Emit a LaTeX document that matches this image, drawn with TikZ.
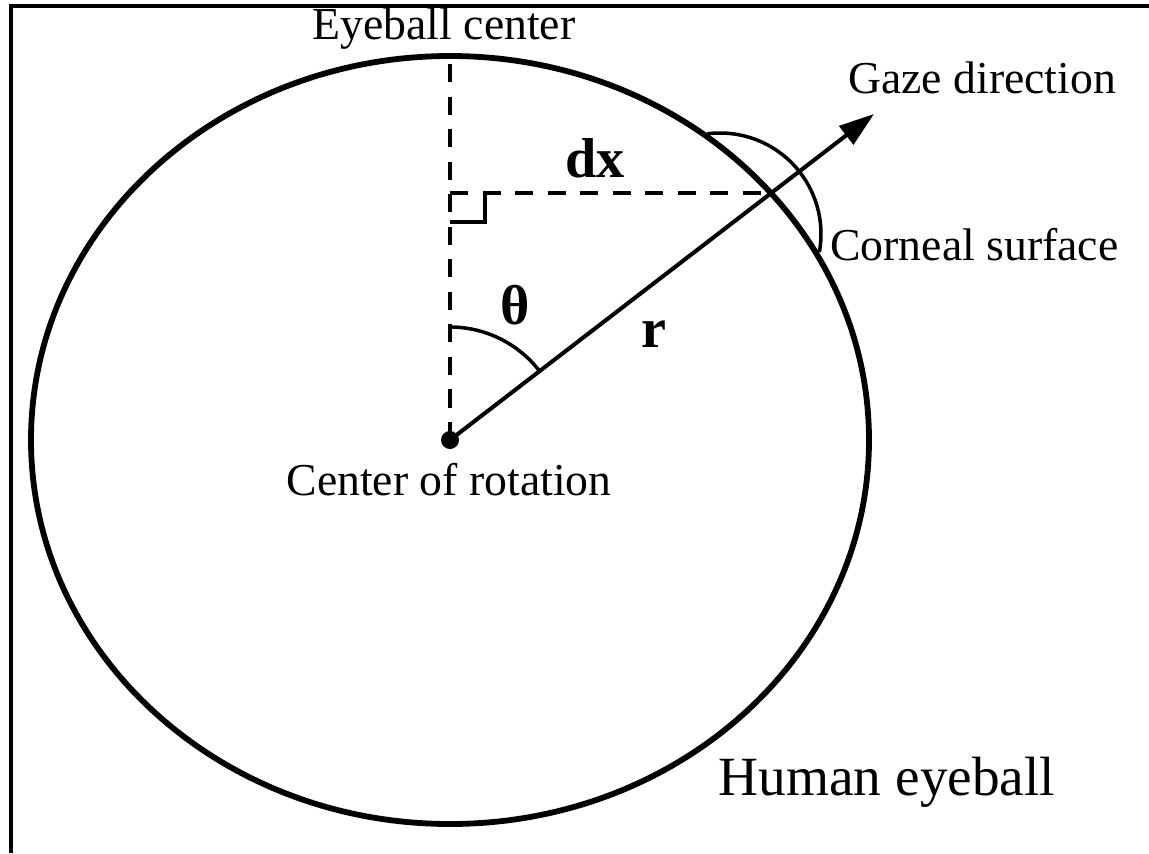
\documentclass[tikz,border=0pt]{standalone}
\usepackage{fontspec}
\setmainfont{Liberation Serif}
\usetikzlibrary{arrows.meta}

\tikzset{
  lbl/.style={font=\fontsize{26}{30}\selectfont, inner sep=0pt},
  biglbl/.style={font=\fontsize{31.5}{36}\selectfont, inner sep=0pt},
  sym/.style={font=\fontsize{32}{36}\selectfont\bfseries, inner sep=0pt},
  guide/.style={line width=2.3pt, dash pattern=on 10.5pt off 8pt},
  thin line/.style={line width=2pt},
}

\begin{document}
\begin{tikzpicture}[x=0.02cm, y=-0.02cm]
\useasboundingbox (0,0) rectangle (1149,853);

% Frame (left and top edges only)
\draw[line width=1.8pt] (11,853) -- (11,6) -- (1149,6);

% Key points (pixel coords, y downwards)
\coordinate (O) at (450,440);
\coordinate (T) at (450,56);
\coordinate (F) at (450,193);
\coordinate (P) at (770,193);
\coordinate (G) at (874,114);

% --- Eyeball ---
\draw[line width=3.3pt] (O) ellipse [x radius=419, y radius=384];

% Dashed guides
\draw[guide] (O) -- (T);
\draw[guide] (F) -- (P);

% Right angle mark
\draw[thin line] (F) ++(0,29) -- ++(35,0) -- ++(0,-29);

% Gaze direction
\draw[line width=2.3pt, -{Triangle[length=20pt,width=13pt]}] (O) -- (G);

% Angle arc
\draw[thin line] (O) ++(0,-113) arc[start angle=-90, end angle=-37.8, radius=113];

% Corneal surface
\draw[thin line] (720,234) ++(-97.3:101) arc[start angle=-97.3, end angle=10.4, radius=101];

% Center of rotation dot
\fill (O) circle[radius=9];

% --- Labels ---
\node[lbl, anchor=base] (ec) at (444,39) {Eyeball center};
\node[lbl, anchor=base west] (gd) at (848,93) {Gaze direction};
\node[lbl, anchor=base west] (cs) at (830,260) {Corneal surface};
\node[lbl, anchor=base] (cr) at (449,495) {Center of rotation};
\node[biglbl, anchor=base] (he) at (887,795) {Human eyeball};
\node[sym, anchor=base] (dx) at (595,177) {dx};
\node[sym] (th) at (515,305) {θ};
\node[sym, anchor=base] (r) at (654,347) {r};

\end{tikzpicture}
\end{document}
